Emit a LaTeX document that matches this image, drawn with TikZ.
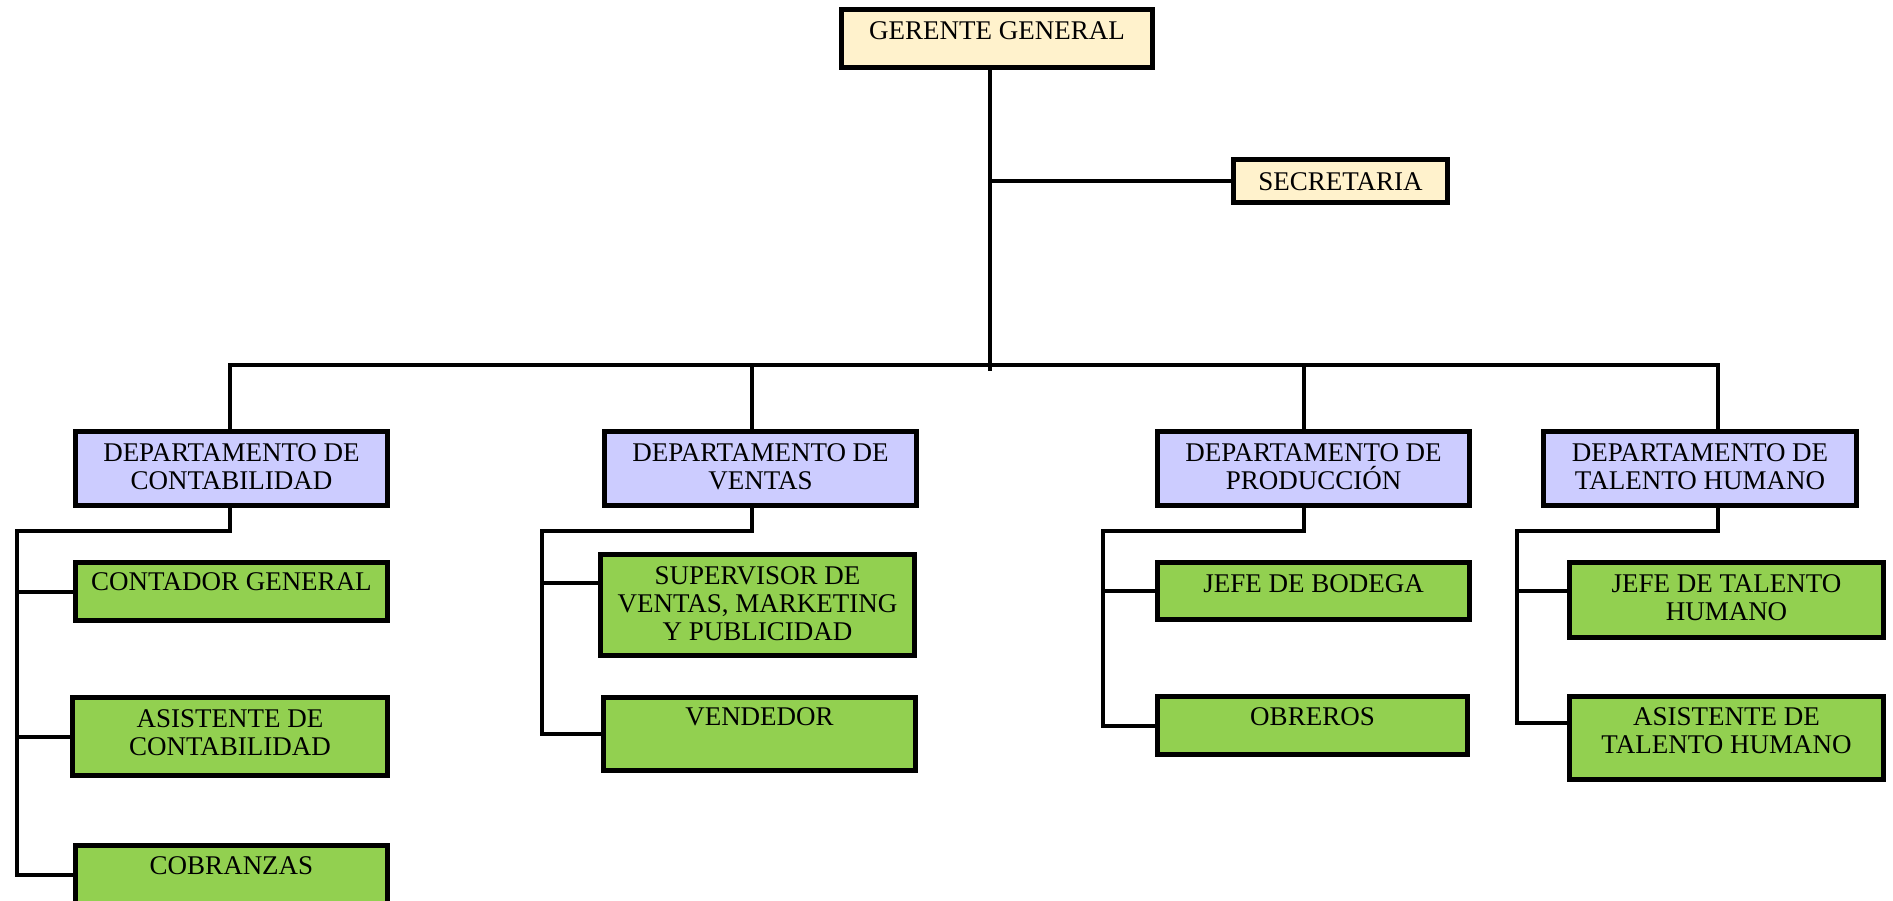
\documentclass[tikz,border=0pt]{standalone}
\usepackage{fontspec}
\setmainfont{Liberation Serif}
\definecolor{headfill}{HTML}{FFF2CC}
\definecolor{deptfill}{HTML}{CCCCFF}
\definecolor{unitfill}{HTML}{92D050}
\tikzset{
  orgbox/.style={draw=black, line width=4.5pt, inner sep=0pt},
  headbox/.style={orgbox, fill=headfill},
  deptbox/.style={orgbox, fill=deptfill},
  unitbox/.style={orgbox, fill=unitfill},
  boxtext/.style={anchor=north, inner sep=0pt, yshift=-14pt, align=center,
    font=\fontsize{27}{28}\selectfont, text=black},
  wire/.style={draw=black, line width=4pt, line cap=rect, line join=miter},
  busline/.style={draw=black, line width=4.2pt, line cap=rect},
}
\begin{document}
\begin{tikzpicture}[x=1pt, y=-1pt]
\path[use as bounding box, clip] (0,0) rectangle (1893,901);
\fill[white] (0,0) rectangle (1893,901);

% ---- top level ----
\node[headbox, minimum width=311pt, minimum height=58pt,
  label={[boxtext]north:GERENTE GENERAL}] (ger) at (997,38.5) {};
\node[headbox, minimum width=214pt, minimum height=43pt,
  label={[boxtext, yshift=-1pt]north:SECRETARIA}] (sec) at (1340.5,181) {};

% ---- departments ----
\node[deptbox, minimum width=312pt, minimum height=74pt,
  label={[boxtext]north:DEPARTAMENTO DE\\CONTABILIDAD}] (dC) at (231.5,468.5) {};
\node[deptbox, minimum width=312pt, minimum height=74pt,
  label={[boxtext]north:DEPARTAMENTO DE\\VENTAS}] (dV) at (760.5,468.5) {};
\node[deptbox, minimum width=312pt, minimum height=74pt,
  label={[boxtext]north:DEPARTAMENTO DE\\PRODUCCIÓN}] (dP) at (1313.5,468.5) {};
\node[deptbox, minimum width=313pt, minimum height=74pt,
  label={[boxtext]north:DEPARTAMENTO DE\\TALENTO HUMANO}] (dT) at (1700,468.5) {};

% ---- units: contabilidad ----
\node[unitbox, minimum width=312pt, minimum height=58pt,
  label={[boxtext, yshift=2pt]north:CONTADOR GENERAL}] (cg) at (231.5,591.5) {};
\node[unitbox, minimum width=315pt, minimum height=78pt,
  label={[boxtext]north:ASISTENTE DE\\CONTABILIDAD}] (ac) at (230,736.5) {};
\node[unitbox, minimum width=312pt, minimum height=58pt,
  label={[boxtext, yshift=1pt]north:COBRANZAS}] (cob) at (231.5,874.5) {};

% ---- units: ventas ----
\node[unitbox, minimum width=314pt, minimum height=101pt,
  label={[boxtext]north:SUPERVISOR DE\\VENTAS, MARKETING\\Y PUBLICIDAD}] (sup) at (757.5,605) {};
\node[unitbox, minimum width=312pt, minimum height=73pt,
  label={[boxtext, yshift=2pt]north:VENDEDOR}] (ven) at (759.5,734) {};

% ---- units: produccion ----
\node[unitbox, minimum width=312pt, minimum height=57pt,
  label={[boxtext]north:JEFE DE BODEGA}] (jb) at (1313.5,591) {};
\node[unitbox, minimum width=310pt, minimum height=58pt,
  label={[boxtext, yshift=1pt]north:OBREROS}] (ob) at (1312.5,725.5) {};

% ---- units: talento humano ----
\node[unitbox, minimum width=314pt, minimum height=75pt,
  label={[boxtext]north:JEFE DE TALENTO\\HUMANO}] (jt) at (1726.5,600) {};
\node[unitbox, minimum width=314pt, minimum height=83pt,
  label={[boxtext, yshift=1pt]north:ASISTENTE DE\\TALENTO HUMANO}] (at) at (1726.5,738) {};

% ---- junction points ----
\coordinate (hub) at (990,365);
\coordinate (xC) at (230,365);
\coordinate (xV) at (752,365);
\coordinate (xP) at (1304,365);
\coordinate (xT) at (1718,365);
\coordinate (kC) at (17,531);
\coordinate (kV) at (542,531);
\coordinate (kP) at (1103,531);
\coordinate (kT) at (1517,531);
\coordinate (supIn) at ([yshift=22pt]sup.west);
\coordinate (jtIn) at ([yshift=9pt]jt.west);
\coordinate (atIn) at ([yshift=15pt]at.west);

% ---- top trunk and bus ----
\draw[wire] (hub |- ger.south) -- ([yshift=-4pt]hub);
\draw[wire] (hub |- sec.west) -- (sec.west);
\draw[busline] (xC) -- (xT);
\draw[wire] (xC) -- (xC |- dC.north);
\draw[wire] (xV) -- (xV |- dV.north);
\draw[wire] (xP) -- (xP |- dP.north);
\draw[wire] (xT) -- (xT |- dT.north);

% ---- contabilidad branch ----
\draw[wire] (xC |- dC.south) -- (xC |- kC) -- (kC) -- (kC |- cob.west) -- (cob.west);
\draw[wire] (kC |- cg.west) -- (cg.west);
\draw[wire] (kC |- ac.west) -- (ac.west);

% ---- ventas branch ----
\draw[wire] (xV |- dV.south) -- (xV |- kV) -- (kV) -- (kV |- ven.west) -- (ven.west);
\draw[wire] (kV |- supIn) -- (supIn);

% ---- produccion branch ----
\draw[wire] (xP |- dP.south) -- (xP |- kP) -- (kP) -- (kP |- ob.west) -- (ob.west);
\draw[wire] (kP |- jb.west) -- (jb.west);

% ---- talento humano branch ----
\draw[wire] (xT |- dT.south) -- (xT |- kT) -- (kT) -- (kT |- atIn) -- (atIn);
\draw[wire] (kT |- jtIn) -- (jtIn);
\end{tikzpicture}
\end{document}
